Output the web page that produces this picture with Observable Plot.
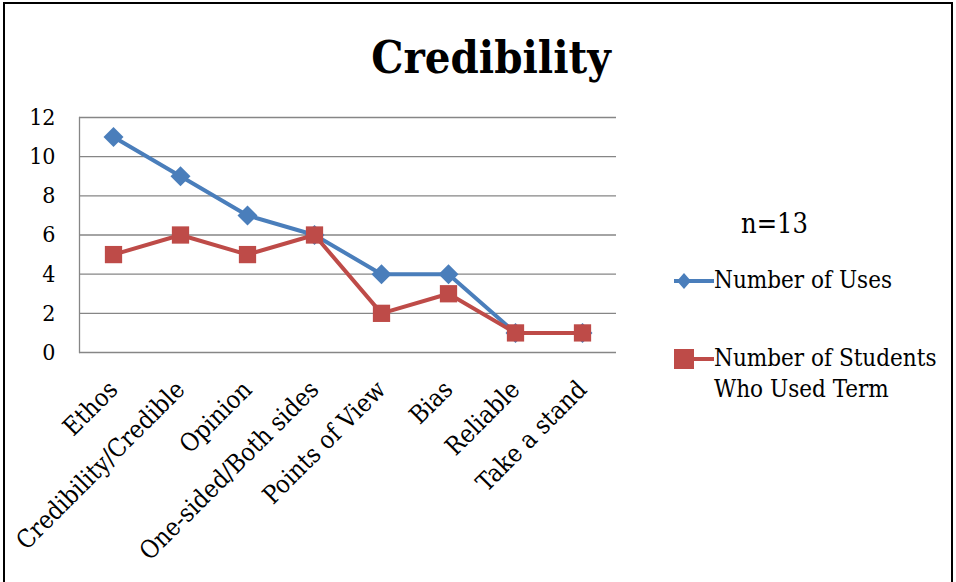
<!DOCTYPE html>
<html><head><meta charset="utf-8">
<script src="https://cdn.jsdelivr.net/npm/d3@7"></script>
<script src="https://cdn.jsdelivr.net/npm/@observablehq/plot@0.6"></script>
<style>
body{margin:0;background:#fff;}
#wrap{position:relative;width:956px;height:582px;overflow:hidden;font-family:"DejaVu Serif Condensed","DejaVu Serif",serif;}
#frame{position:absolute;left:3px;top:2px;width:950px;height:590px;border:2px solid #000;box-sizing:border-box;}
#title{position:absolute;left:0;width:982px;top:31px;text-align:center;font-weight:bold;font-size:45px;color:#000;}
#chart{position:absolute;left:0;top:0;}
.lg{position:absolute;font-size:24px;color:#000;line-height:31px;}
</style></head>
<body><div id="wrap"><div id="frame"></div><div id="title">Credibility</div><div id="chart"></div>
<div class="lg" style="left:741px;top:208px;font-size:27px">n=13</div>
<svg style="position:absolute;left:670px;top:266px" width="46" height="30"><line x1="4" y1="15" x2="44" y2="15" stroke="#4a7ebb" stroke-width="4"/><path d="M14,7 L21,15 L14,23 L7,15Z" fill="#4a7ebb"/></svg>
<div class="lg" style="left:714px;top:265px">Number of Uses</div>
<svg style="position:absolute;left:670px;top:344px" width="46" height="30"><line x1="4" y1="15" x2="44" y2="15" stroke="#be4b48" stroke-width="4"/><rect x="4" y="5" width="20" height="20" fill="#be4b48"/></svg>
<div class="lg" style="left:714px;top:343px">Number of Students<br>Who Used Term</div>
</div>
<script>
const categories = ["Ethos","Credibility/Credible","Opinion","One-sided/Both sides","Points of View","Bias","Reliable","Take a stand"];
const numberOfUses = [11,9,7,6,4,4,1,1];
const numberOfStudents = [5,6,5,6,2,3,1,1];
const yTicks = [0,2,4,6,8,10,12];

const uses = categories.map((c,i)=>({cat:c, v:numberOfUses[i]}));
const students = categories.map((c,i)=>({cat:c, v:numberOfStudents[i]}));

const chart = Plot.plot({
  width:956, height:582,
  marginTop:117, marginBottom:230, marginLeft:79, marginRight:340,
  style:{fontFamily:'"DejaVu Serif Condensed","DejaVu Serif",serif', fontSize:"23px", color:"#000", background:"transparent", overflow:"visible"},
  x:{type:"point", domain:categories, padding:0.5, label:null},
  y:{domain:[0,12], label:null},
  marks:[
    Plot.ruleY(yTicks,{stroke:"#868686", strokeWidth:1.3}),
    Plot.frame({anchor:"left", stroke:"#868686", strokeWidth:1.3}),
    Plot.axisX({tickSize:0, tickRotate:-45, tickPadding:33, fontSize:25, label:null}),
    Plot.axisY(yTicks, {tickSize:0, tickPadding:24, fontSize:23, label:null}),
    Plot.line(uses,{x:"cat", y:"v", stroke:"#4a7ebb", strokeWidth:4}),
    Plot.dot(uses,{x:"cat", y:"v", symbol:"diamond2", r:9, fill:"#4a7ebb", stroke:"none"}),
    Plot.line(students,{x:"cat", y:"v", stroke:"#be4b48", strokeWidth:4}),
    Plot.dot(students,{x:"cat", y:"v", symbol:"square2", r:11, fill:"#be4b48", stroke:"none"})
  ]
});
document.getElementById("chart").appendChild(chart);
</script>
</body></html>
